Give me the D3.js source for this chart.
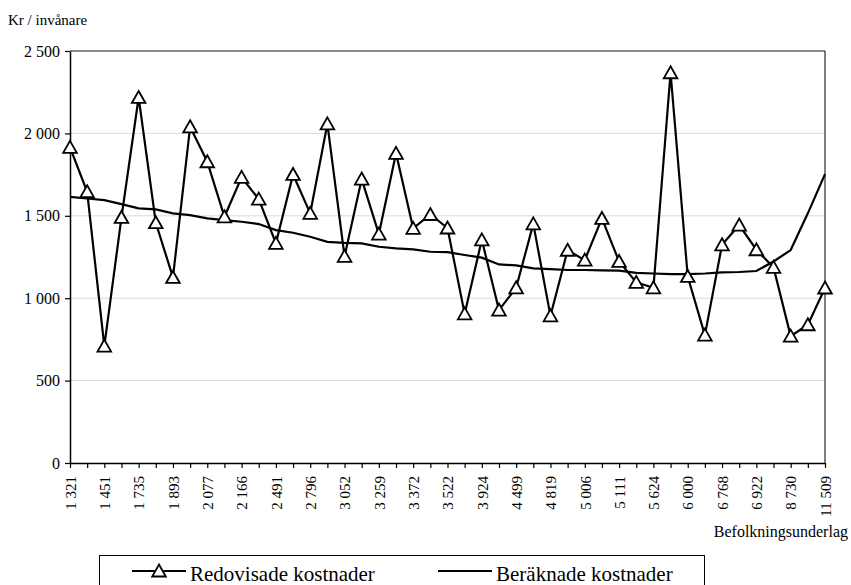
<!DOCTYPE html>
<html>
<head>
<meta charset="utf-8">
<script src="https://cdnjs.cloudflare.com/ajax/libs/d3/7.8.5/d3.min.js"></script>
<style>
  body { margin: 0; background: #fff; }
  svg, svg text { font-family: 'Liberation Serif', 'DejaVu Serif', Times, serif !important; }
</style>
</head>
<body>
<div class="container"></div>
<script>
// labels shown on every second category
const tickLabels = ['1 321', '1 451', '1 735', '1 893', '2 077', '2 166', '2 491', '2 796',
  '3 052', '3 259', '3 372', '3 522', '3 924', '4 499', '4 819', '5 006', '5 111', '5 624',
  '6 000', '6 768', '6 922', '8 730', '11 509'];

const redovisade = [1915, 1646, 709, 1490, 2218, 1458, 1126, 2040, 1828, 1494, 1733, 1601,
  1333, 1751, 1515, 2058, 1254, 1723, 1389, 1879, 1424, 1508, 1426, 905, 1354, 928, 1063,
  1451, 893, 1291, 1231, 1484, 1223, 1096, 1063, 2368, 1132, 776, 1324, 1444, 1294, 1187,
  770, 839, 1062];

const beraknade = [1615, 1605, 1595, 1571, 1545, 1539, 1515, 1504, 1484, 1474, 1464, 1450,
  1413, 1397, 1373, 1342, 1336, 1333, 1312, 1302, 1296, 1282, 1280, 1262, 1246, 1205, 1199,
  1181, 1177, 1171, 1171, 1169, 1167, 1154, 1150, 1146, 1146, 1150, 1157, 1159, 1165, 1223,
  1292, 1515, 1753];

const seriesNames = ['Redovisade kostnader', 'Beräknade kostnader'];
const yTicks = [0, 500, 1000, 1500, 2000, 2500];

const width = 851;
const height = 585;
const plotLeft = 70, plotRight = 825, plotTop = 51, plotBottom = 463;

const locale = d3.formatLocale({ decimal: ',', thousands: ' ', grouping: [3], currency: ['', ''] });
const fmt = locale.format(',d');

const idx = d3.range(redovisade.length);

const x = d3.scalePoint()
  .domain(idx)
  .range([plotLeft, plotRight]);

const y = d3.scaleLinear()
  .domain([0, 2500])
  .range([plotBottom, plotTop]);

const svg = d3.select('.container')
  .append('svg')
  .attr('width', width)
  .attr('height', height)
  .style('display', 'block');

// gridlines
svg.append('g')
  .selectAll('line')
  .data(yTicks.filter(d => d > 0 && d < 2500))
  .enter()
  .append('line')
  .attr('x1', plotLeft)
  .attr('x2', plotRight)
  .attr('y1', d => y(d))
  .attr('y2', d => y(d))
  .attr('stroke', '#dadada')
  .attr('stroke-width', 1);

// top and right frame
svg.append('line')
  .attr('x1', plotLeft).attr('x2', plotRight)
  .attr('y1', y(2500)).attr('y2', y(2500))
  .attr('stroke', '#666').attr('stroke-width', 1.5);
svg.append('line')
  .attr('x1', plotRight).attr('x2', plotRight)
  .attr('y1', plotTop).attr('y2', plotBottom)
  .attr('stroke', '#000').attr('stroke-width', 1);

// y axis
const yAxis = svg.append('g')
  .attr('transform', `translate(${plotLeft},0)`)
  .call(d3.axisLeft(y).tickValues(yTicks).tickFormat(fmt).tickSize(5).tickSizeOuter(0).tickPadding(5));
yAxis.attr('font-family', null);
yAxis.select('.domain').attr('stroke', '#000').attr('stroke-width', 1.5);
yAxis.selectAll('.tick line').attr('stroke', '#000').attr('stroke-width', 1.2);
yAxis.selectAll('text')
  .attr('font-size', 16)
  .attr('fill', '#000');

// x axis
const xAxis = svg.append('g')
  .attr('transform', `translate(0,${plotBottom})`)
  .call(d3.axisBottom(x)
    .tickValues(idx)
    .tickFormat(i => (i % 2 === 0 ? tickLabels[i / 2] : ''))
    .tickSize(5)
    .tickSizeOuter(0));
xAxis.attr('font-family', null);
xAxis.select('.domain').attr('stroke', '#000').attr('stroke-width', 1.5);
xAxis.selectAll('.tick line').attr('stroke', '#000').attr('stroke-width', 1.2);
xAxis.selectAll('text')
  .attr('font-size', 15)
  .attr('fill', '#000')
  .attr('transform', 'rotate(-90)')
  .attr('text-anchor', 'end')
  .attr('x', -13)
  .attr('y', 0)
  .attr('dy', '0.35em');

// axis titles
svg.append('text')
  .attr('x', 8)
  .attr('y', 25)
  .attr('font-size', 15)
  .text('Kr / invånare');

svg.append('text')
  .attr('x', 848)
  .attr('y', 537)
  .attr('text-anchor', 'end')
  .attr('font-size', 16)
  .text('Befolkningsunderlag');

// lines
const line = d3.line()
  .x((d, i) => x(i))
  .y(d => y(d));

svg.append('path')
  .datum(beraknade)
  .attr('d', line)
  .attr('fill', 'none')
  .attr('stroke', '#000')
  .attr('stroke-width', 2.2);

svg.append('path')
  .datum(redovisade)
  .attr('d', line)
  .attr('fill', 'none')
  .attr('stroke', '#000')
  .attr('stroke-width', 2.2);

const tri = 'M0,-6.5L6.8,5.5L-6.8,5.5Z';

svg.append('g')
  .selectAll('path')
  .data(redovisade)
  .enter()
  .append('path')
  .attr('d', tri)
  .attr('transform', (d, i) => `translate(${x(i)},${y(d)})`)
  .attr('fill', '#fff')
  .attr('stroke', '#000')
  .attr('stroke-width', 1.8)
  .attr('stroke-linejoin', 'miter');

// legend
const legend = svg.append('g');
legend.append('rect')
  .attr('x', 99.5)
  .attr('y', 555.5)
  .attr('width', 605)
  .attr('height', 60)
  .attr('fill', '#fff')
  .attr('stroke', '#000')
  .attr('stroke-width', 1);

const legendItems = [
  { name: seriesNames[0], x0: 132, marker: true },
  { name: seriesNames[1], x0: 438, marker: false },
];

legendItems.forEach(it => {
  legend.append('line')
    .attr('x1', it.x0).attr('x2', it.x0 + 54)
    .attr('y1', 571).attr('y2', 571)
    .attr('stroke', '#000').attr('stroke-width', 2.2);
  if (it.marker) {
    legend.append('path')
      .attr('d', tri)
      .attr('transform', `translate(${it.x0 + 27},571)`)
      .attr('fill', '#fff')
      .attr('stroke', '#000')
      .attr('stroke-width', 1.8);
  }
  legend.append('text')
    .attr('x', it.x0 + 58)
    .attr('y', 581)
    .attr('font-size', 21)
    .text(it.name);
});
</script>
</body>
</html>
